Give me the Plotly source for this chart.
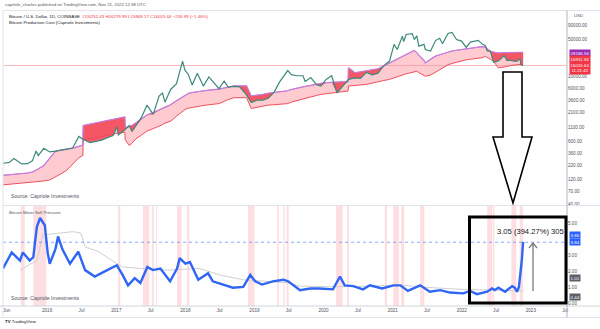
import numpy as np
import plotly.graph_objects as go

# ---------------- DATA ----------------
dates = [
    "2015-05-13", "2015-06-15", "2015-07-10", "2015-08-20", "2015-09-20", "2015-10-15", "2015-11-04", "2015-11-15",
    "2015-12-15", "2016-01-15", "2016-02-15", "2016-03-15", "2016-04-15", "2016-05-15", "2016-06-17", "2016-07-08",
    "2016-07-10", "2016-08-15", "2016-09-15", "2016-10-15", "2016-11-15", "2016-12-15", "2017-01-04", "2017-01-12",
    "2017-02-15", "2017-02-17", "2017-03-10", "2017-03-25", "2017-04-15", "2017-05-15", "2017-06-12", "2017-07-15",
    "2017-08-15", "2017-09-02", "2017-09-15", "2017-10-15", "2017-11-15", "2017-12-17", "2017-12-30", "2018-01-16",
    "2018-02-06", "2018-03-05", "2018-04-06", "2018-05-05", "2018-06-28", "2018-07-25", "2018-08-15", "2018-09-15",
    "2018-10-15", "2018-11-20", "2018-12-15", "2019-01-15", "2019-02-15", "2019-03-15", "2019-04-15", "2019-05-15",
    "2019-06-26", "2019-07-15", "2019-08-15", "2019-09-15", "2019-09-26", "2019-10-26", "2019-11-25", "2019-12-18",
    "2020-01-15", "2020-02-13", "2020-03-13", "2020-04-15", "2020-05-10", "2020-05-12", "2020-06-15", "2020-07-15",
    "2020-08-15", "2020-09-15", "2020-10-15", "2020-11-15", "2020-12-15", "2021-01-08", "2021-01-25", "2021-02-21",
    "2021-02-28", "2021-03-13", "2021-04-14", "2021-04-25", "2021-05-08", "2021-05-19", "2021-06-15", "2021-06-22",
    "2021-07-20", "2021-08-15", "2021-09-06", "2021-09-21", "2021-10-20", "2021-11-10", "2021-12-04", "2021-12-31",
    "2022-01-24", "2022-02-15", "2022-03-29", "2022-04-20", "2022-05-05", "2022-05-15", "2022-06-01", "2022-06-18",
    "2022-07-13", "2022-08-13", "2022-08-28", "2022-09-15", "2022-10-15", "2022-11-05", "2022-11-09", "2022-11-21",
]
btc_close = [
    236, 245, 290, 230, 232, 262, 400, 330,
    450, 385, 400, 415, 425, 455, 750, 650,
    660, 575, 608, 640, 710, 780, 1130, 800,
    1000, 1020, 1200, 930, 1180, 1750, 2900, 1950,
    4300, 4900, 3300, 5700, 7300, 19300, 13000, 11000,
    6900, 11500, 6600, 9800, 5900, 8200, 6300, 6500,
    6400, 4500, 3250, 3600, 3600, 3900, 5100, 8000,
    12900, 10800, 10300, 10300, 8000, 9500, 7000, 6600,
    8800, 10300, 4900, 6900, 8700, 8800, 9400, 9200,
    11900, 10700, 11500, 16000, 19400, 40000, 32000, 57000,
    45000, 61000, 63500, 49000, 58000, 37000, 40000, 32000,
    30000, 47000, 52000, 41000, 64000, 67000, 49000, 46000,
    35000, 44000, 47500, 40000, 38000, 30000, 30000, 18500,
    19500, 24500, 20000, 20000, 19100, 21300, 16500, 16015.64,
]
prod_cost = [
    140, 143, 147, 150, 155, 162, 175, 185,
    215, 300, 400, 415, 430, 455, 490, 520,
    1200, 1280, 1350, 1430, 1500, 1580, 1620, 1640,
    1740, 1100, 1150, 1200, 1350, 1600, 1900, 2100,
    2350, 2550, 2700, 2950, 3500, 4200, 4500, 4800,
    5000, 5200, 5400, 5550, 5800, 6100, 6400, 6630,
    6630, 6630, 4300, 4400, 4600, 4840, 5000, 5200,
    5400, 5700, 6100, 6400, 6500, 6800, 7200, 7400,
    7650, 7700, 7800, 7900, 8000, 14500, 11700, 12200,
    12800, 13300, 13900, 15800, 17900, 20000, 21500, 23500,
    24000, 25500, 30000, 30700, 28000, 25000, 20000, 17900,
    21000, 24000, 25500, 26500, 29000, 30000, 31000, 32000,
    32600, 33500, 35500, 36300, 35500, 33000, 29400, 28500,
    27500, 27800, 28000, 28000, 28100, 28150, 28180, 28186.56,
]
elec_cost = [
    93, 95, 97, 99, 101, 103, 105, 107,
    110, 115, 130, 150, 176, 230, 300, 330,
    650, 680, 710, 750, 790, 830, 860, 870,
    900, 650, 510, 560, 680, 800, 950, 1050,
    1150, 1250, 1330, 1450, 1800, 2200, 2400, 2550,
    2640, 2750, 2850, 2950, 3100, 3400, 3700, 4000,
    4000, 4000, 2520, 2650, 2780, 2900, 2950, 3000,
    3100, 3300, 3550, 3750, 3850, 4100, 4400, 4600,
    4750, 4900, 5050, 5200, 5340, 6600, 6700, 6900,
    7100, 7500, 8000, 8400, 8800, 9500, 10000, 10600,
    10800, 11200, 12000, 12400, 12500, 11800, 10500, 10100,
    10600, 12000, 13500, 14500, 16500, 17500, 18500, 19500,
    20500, 21000, 22000, 22500, 23800, 23000, 21000, 19200,
    14500, 15000, 15500, 16000, 16500, 16800, 16850, 16911.94,
]

msp_dates = [
    "2015-05-13", "2015-06-28", "2015-08-11", "2015-08-26", "2015-10-01", "2015-10-20", "2015-11-08", "2015-11-25",
    "2015-12-20", "2016-01-04", "2016-01-15", "2016-02-14", "2016-02-28", "2016-03-22", "2016-05-01", "2016-06-14",
    "2016-07-20", "2016-09-09", "2016-11-14", "2017-01-04", "2017-02-03", "2017-03-04", "2017-04-08", "2017-05-08",
    "2017-06-14", "2017-07-13", "2017-08-22", "2017-10-12", "2017-11-18", "2017-12-02", "2018-01-01", "2018-01-25",
    "2018-03-10", "2018-05-01", "2018-05-26", "2018-07-20", "2018-09-09", "2018-11-03", "2018-12-10", "2019-01-05",
    "2019-02-10", "2019-04-08", "2019-06-03", "2019-06-28", "2019-08-30", "2019-10-23", "2019-12-12", "2020-02-20",
    "2020-03-28", "2020-04-22", "2020-06-06", "2020-07-28", "2020-09-02", "2020-11-06", "2021-01-05", "2021-02-10",
    "2021-03-22", "2021-05-26", "2021-07-16", "2021-09-09", "2021-10-30", "2022-01-08", "2022-02-14", "2022-03-22",
    "2022-04-08", "2022-05-15", "2022-06-10", "2022-06-24", "2022-07-13", "2022-08-18", "2022-09-24", "2022-10-08",
    "2022-10-20", "2022-10-30", "2022-11-14", "2022-11-21",
]
msp_values = [
    2.2, 3.2, 2.7, 3.2, 2.7, 2.9, 4.8, 5.35,
    4.9, 3.2, 2.5, 3.4, 4.2, 3.4, 2.5, 3.25,
    2.1, 1.7, 2.1, 2.4, 1.8, 1.15, 1.6, 1.3,
    2.3, 2.1, 2.2, 1.4, 2.2, 2.85, 2.5, 2.6,
    1.5, 1.9, 1.4, 1.2, 1.0, 1.05, 1.8, 1.4,
    1.2, 1.4, 1.5, 1.4, 0.85, 0.95, 0.95, 0.9,
    1.7, 1.15, 1.1, 0.9, 1.15, 0.95, 1.15, 1.15,
    0.8, 1.15, 0.75, 0.85, 0.7, 0.65, 0.8, 0.6,
    0.65, 0.75, 0.95, 0.85, 1.0, 0.75, 1.1, 1.0,
    0.75, 1.05, 2.7, 3.86,
]
band_dates = [
    "2015-08-11", "2015-11-08", "2015-12-10", "2016-02-28", "2016-05-20", "2016-06-28", "2016-07-20", "2016-09-30",
    "2016-12-20", "2017-01-30", "2017-05-10", "2017-09-30", "2018-03-17", "2018-07-01", "2018-11-01", "2019-02-10",
    "2019-06-28", "2019-08-30", "2020-02-20", "2020-09-02", "2021-02-10", "2021-07-28", "2022-01-01", "2022-11-21",
]
band_values = [
    2.1, 2.7, 4.3, 4.4, 4.5, 4.4, 3.55, 3.25,
    2.6, 2.3, 2.2, 2.1, 2.2, 1.8, 1.5, 1.4,
    1.3, 1.1, 1.06, 1.1, 1.17, 1.0, 0.9, 0.8,
]
msp_ref_level = 3.84

zone_starts = ["2015-08-15", "2015-10-20", "2017-01-10", "2017-05-22", "2017-07-08", "2017-07-30", "2017-11-18",
               "2018-01-10", "2018-11-28", "2019-05-01", "2019-06-03", "2019-06-20", "2020-03-07", "2020-05-05",
               "2020-11-20", "2021-01-04", "2021-02-14", "2021-05-26", "2022-05-15", "2022-06-14", "2022-09-20",
               "2022-11-03"]
zone_ends = ["2015-09-05", "2015-12-28", "2017-01-22", "2017-06-24", "2017-07-18", "2017-08-04", "2017-12-12",
             "2018-01-22", "2019-01-01", "2019-05-10", "2019-06-10", "2019-07-01", "2020-04-12", "2020-05-15",
             "2020-12-02", "2021-02-03", "2021-03-03", "2021-06-17", "2022-06-10", "2022-06-22", "2022-10-16",
             "2022-11-21"]

price_ticks = [40, 70, 120, 220, 360, 600, 1100, 2100, 3600, 6000, 10000, 50000, 90000]
msp_ticks = [0, 1, 2, 3, 5]
x_tick_dates = ["2015-06-01", "2016-01-01", "2016-07-01", "2017-01-01", "2017-07-01", "2018-01-01", "2018-07-01",
                "2019-01-01", "2019-07-01", "2020-01-01", "2020-07-01", "2021-01-01", "2021-07-01", "2022-01-01",
                "2022-07-01", "2023-01-01", "2023-07-01"]
x_tick_labels = ["Jun", "2016", "Jul", "2017", "Jul", "2018", "Jul", "2019", "Jul", "2020", "Jul", "2021", "Jul",
                 "2022", "Jul", "2023", "Jul"]
x_range = ["2015-05-13", "2023-07-11"]

# ---------------- LAYOUT HELPERS ----------------
W, H = 600, 329
ML, MR, MT, MB = 3, 33, 10, 23
PW, PH = W - ML - MR, H - MT - MB


def px_x(px):
    return (px - ML) / PW


def px_y(py):
    return (H - MB - py) / PH


FONT = "Liberation Sans"
AX_FS = 4.6
TXT = "#131722"

fig = go.Figure()

# ---- top pane: production cost band ----
fig.add_trace(go.Scatter(x=dates, y=elec_cost, mode="lines", line=dict(color="#f0505c", width=1),
                         xaxis="x", yaxis="y", hoverinfo="skip"))
fig.add_trace(go.Scatter(x=dates, y=prod_cost, mode="lines", line=dict(color="#c77dda", width=1.2),
                         fill="tonexty", fillcolor="rgba(250,140,150,0.45)", xaxis="x", yaxis="y", hoverinfo="skip"))
red_floor = np.minimum(np.array(btc_close, float), np.array(prod_cost, float))
fig.add_trace(go.Scatter(x=dates, y=red_floor, mode="lines", line=dict(width=0, color="rgba(0,0,0,0)"),
                         xaxis="x", yaxis="y", hoverinfo="skip"))
fig.add_trace(go.Scatter(x=dates, y=prod_cost, mode="lines", line=dict(width=0, color="rgba(0,0,0,0)"),
                         fill="tonexty", fillcolor="rgba(244,70,84,0.88)", xaxis="x", yaxis="y", hoverinfo="skip"))
fig.add_trace(go.Scatter(x=dates, y=prod_cost, mode="lines", line=dict(color="#c77dda", width=1),
                         xaxis="x", yaxis="y", hoverinfo="skip"))
fig.add_trace(go.Scatter(x=dates, y=btc_close, mode="lines", line=dict(color="#3d8a7c", width=1.2),
                         xaxis="x", yaxis="y", hoverinfo="skip"))

# ---- bottom pane ----
fig.add_trace(go.Scatter(x=band_dates, y=band_values, mode="lines", line=dict(color="#d0d0d0", width=1),
                         xaxis="x", yaxis="y2", hoverinfo="skip"))
fig.add_trace(go.Scatter(x=msp_dates, y=msp_values, mode="lines", line=dict(color="#2f66f5", width=2.4),
                         xaxis="x", yaxis="y2", hoverinfo="skip"))

shapes = []
for s, e in zip(zone_starts, zone_ends):
    shapes.append(dict(type="rect", xref="x", yref="y2 domain", x0=s, x1=e, y0=0, y1=1,
                       fillcolor="rgba(242,54,69,0.16)", line=dict(width=0), layer="below"))
# current price line
shapes.append(dict(type="line", xref="paper", yref="y", x0=0, x1=1, y0=btc_close[-1], y1=btc_close[-1],
                   line=dict(color="rgba(242,54,69,0.35)", width=1), layer="below"))
# reference dotted level
shapes.append(dict(type="line", xref="paper", yref="y2", x0=0, x1=1, y0=msp_ref_level, y1=msp_ref_level,
                   line=dict(color="rgba(41,98,255,0.55)", width=1, dash="dot")))
# frame lines
shapes.append(dict(type="line", xref="paper", yref="paper", x0=px_x(3), x1=px_x(600), y0=px_y(10.5), y1=px_y(10.5),
                   line=dict(color="#e0e3eb", width=1)))
shapes.append(dict(type="line", xref="paper", yref="paper", x0=px_x(3), x1=px_x(3), y0=px_y(10.5), y1=px_y(317),
                   line=dict(color="#e0e3eb", width=1)))
shapes.append(dict(type="line", xref="paper", yref="paper", x0=px_x(3), x1=px_x(600), y0=px_y(205.5), y1=px_y(205.5),
                   line=dict(color="#e0e3eb", width=1)))
shapes.append(dict(type="line", xref="paper", yref="paper", x0=px_x(0), x1=px_x(600), y0=px_y(306), y1=px_y(306),
                   line=dict(color="#d1d4dc", width=1)))
shapes.append(dict(type="line", xref="paper", yref="paper", x0=px_x(0), x1=px_x(600), y0=px_y(317.5), y1=px_y(317.5),
                   line=dict(color="#e0e3eb", width=1)))
shapes.append(dict(type="line", xref="paper", yref="paper", x0=px_x(567), x1=px_x(567), y0=px_y(10.5), y1=px_y(317.5),
                   line=dict(color="#b2b5be", width=1)))

# big hollow block arrow
arrow_pts = [(503, 72), (522, 72), (522, 137), (532, 137), (513, 203), (493, 137), (503, 137)]
path = "M " + " L ".join(f"{px_x(a):.5f},{px_y(b):.5f}" for a, b in arrow_pts) + " Z"
shapes.append(dict(type="path", xref="paper", yref="paper", path=path, fillcolor="white",
                   line=dict(color="#000000", width=1.6)))
# black highlight rectangle
shapes.append(dict(type="rect", xref="paper", yref="paper", x0=px_x(469.5), x1=px_x(566), y0=px_y(303),
                   y1=px_y(217), line=dict(color="#000000", width=3)))
# small gray measuring arrow
g_path = (f"M {px_x(533):.5f},{px_y(291):.5f} L {px_x(533):.5f},{px_y(243):.5f} "
          f"M {px_x(529):.5f},{px_y(248):.5f} L {px_x(533):.5f},{px_y(243):.5f} L {px_x(537):.5f},{px_y(248):.5f}")
shapes.append(dict(type="path", xref="paper", yref="paper", path=g_path, line=dict(color="#787b86", width=1.3)))

annotations = []


def text(x, y, s, size=AX_FS, color=TXT, anchor="left"):
    annotations.append(dict(x=px_x(x), y=px_y(y), xref="paper", yref="paper", text=s, showarrow=False,
                            xanchor=anchor, yanchor="middle", font=dict(size=size, color=color, family=FONT)))


text(3, 4.5, "caprIole_charles published on TradingView.com, Nov 21, 2022 12:38 UTC", 4.3, "#50535e")
text(7, 16, "Bitcoin / U.S. Dollar, 1D, COINBASE  <span style='color:#f23645'>O16252.43 H16279.99 "
            "L15868.17 C16015.64 −236.89 (−1.46%)</span>", 4.4, TXT)
text(7, 22.8, "Bitcoin Production Cost (Capriole Investments)", 4.4, TXT)
text(8.5, 196, "Source: Capriole Investments", 5.2, "#50535e")
text(7, 213, "Bitcoin Miner Sell Pressure", 4.3, "#50535e")
text(8.5, 298, "Source: Capriole Investments", 5.2, "#50535e")
text(566, 231, "3.05 (394.27%) 305", 7.6, TXT, anchor="right")
text(572, 15.5, "USD", 4.4, "#50535e")
text(3, 322, "<b>TV</b> TradingView", 4.4, TXT)


def badge(y, s, bg):
    annotations.append(dict(x=1, y=px_y(y), xref="paper", yref="paper", text=s, showarrow=False,
                            xanchor="left", yanchor="middle", xshift=1.5, bgcolor=bg, borderpad=0.6,
                            font=dict(size=4.4, color="white", family=FONT)))


badge(52.8, "28186.56", "#9c27b0")
badge(59.3, "16911.94", "#f23645")
badge(68.4, "16015.64<br>11:21:42", "#f23645")
badge(235, "3.86", "#2962ff")
badge(242.3, "3.84", "#2962ff")
badge(278.3, "1.01", "#5d606b")
badge(297, "0.44", "#5d606b")

top_dom = [px_y(205), 1.0]
bot_dom = [0.0, px_y(206)]

fig.update_layout(
    width=W, height=H, margin=dict(l=ML, r=MR, t=MT, b=MB),
    paper_bgcolor="white", plot_bgcolor="white", showlegend=False,
    font=dict(family=FONT, size=AX_FS, color=TXT),
    xaxis=dict(type="date", range=x_range, domain=[0, 1], anchor="y2", tickvals=x_tick_dates,
               ticktext=x_tick_labels, showgrid=False, zeroline=False, showline=False, ticks="",
               tickfont=dict(size=AX_FS, color="#50535e")),
    yaxis=dict(type="log", domain=top_dom, range=[np.log10(39), 5.245], side="right", anchor="x",
               tickvals=price_ticks, ticktext=[f"{v:.2f}" for v in price_ticks], showgrid=False,
               zeroline=False, showline=False, ticks="", tickfont=dict(size=AX_FS, color="#50535e")),
    yaxis2=dict(domain=bot_dom, range=[-0.14, 6.1], side="right", anchor="x", tickvals=msp_ticks,
                ticktext=[f"{v:.2f}" for v in msp_ticks], showgrid=False, zeroline=False, showline=False,
                ticks="", tickfont=dict(size=AX_FS, color="#50535e")),
    shapes=shapes, annotations=annotations,
)

fig.write_html("out.html")
